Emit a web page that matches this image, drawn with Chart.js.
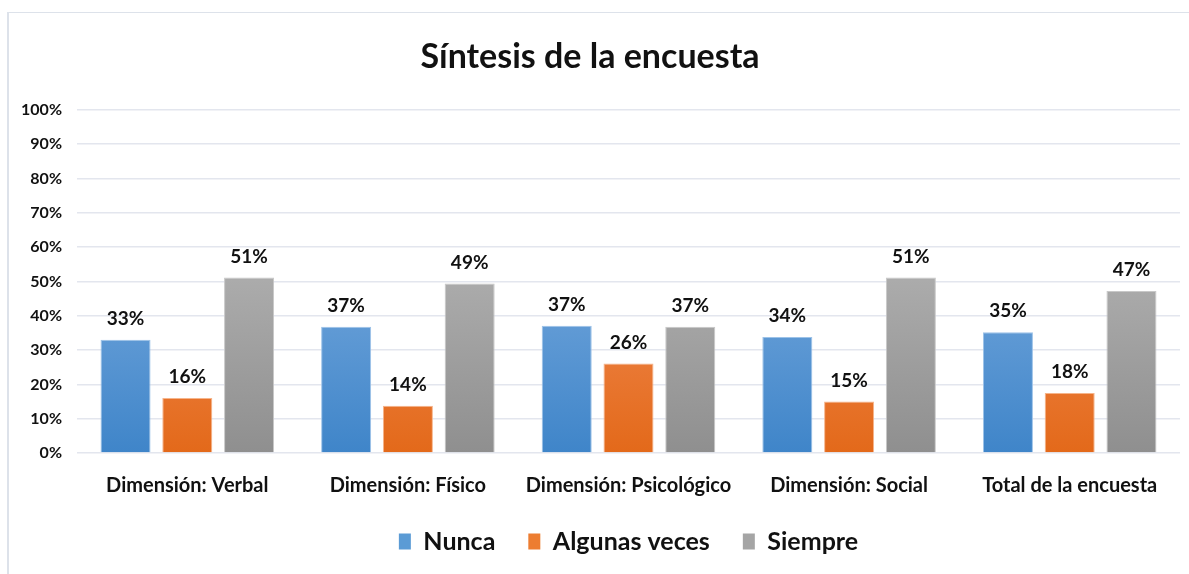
<!DOCTYPE html>
<html>
<head>
<meta charset="utf-8">
<script src="https://cdn.jsdelivr.net/npm/chart.js@4.4.0/dist/chart.umd.min.js"></script>
<style>
  body { margin: 0; background: #fff; }
  #marco { position: absolute; left: 7px; top: 12px; width: 1182px; height: 562px;
           border-top: 1px solid #dde2ea; border-left: 2px solid #dde2ea; pointer-events: none; }
  #grafico { position: absolute; left: 0; top: 0; }
</style>
</head>
<body>
<div id="marco"></div>
<canvas id="grafico" width="1189" height="574"></canvas>
<script>
const categorias = ['Dimensión: Verbal', 'Dimensión: Físico', 'Dimensión: Psicológico', 'Dimensión: Social', 'Total de la encuesta'];
const nunca = [33, 36.8, 37.1, 33.8, 35.2];
const algunasVeces = [16, 13.8, 26.1, 15, 17.5];
const siempre = [51.1, 49.4, 36.8, 51.1, 47.2];
const ticksY = ['0%', '10%', '20%', '30%', '40%', '50%', '60%', '70%', '80%', '90%', '100%'];

const fuente = 'Lato, "Open Sans", sans-serif';

function degradado(arriba, abajo) {
    return function (context) {
        const area = context.chart.chartArea;
        if (!area) return abajo;
        const g = context.chart.ctx.createLinearGradient(0, area.top + 140, 0, area.bottom);
        g.addColorStop(0, arriba);
        g.addColorStop(1, abajo);
        return g;
    };
}

const etiquetasDatos = {
    id: 'etiquetasDatos',
    afterDatasetsDraw(chart) {
        const ctx = chart.ctx;
        ctx.save();
        ctx.font = 'bold 19px ' + fuente;
        ctx.fillStyle = '#111';
        ctx.textAlign = 'center';
        ctx.textBaseline = 'middle';
        chart.data.datasets.forEach((ds, i) => {
            chart.getDatasetMeta(i).data.forEach((barra, j) => {
                ctx.fillText(Math.round(ds.data[j]) + '%', barra.x, barra.y - 21);
            });
        });
        ctx.restore();
    }
};

new Chart(document.getElementById('grafico'), {
    type: 'bar',
    data: {
        labels: categorias,
        datasets: [{
            label: 'Nunca',
            data: nunca,
            backgroundColor: degradado('#74a7dc', '#3f85c9'),
            borderColor: '#9cc2e8',
            borderWidth: 1
        }, {
            label: 'Algunas veces',
            data: algunasVeces,
            backgroundColor: degradado('#f18c55', '#e3691a'),
            borderColor: '#f6b48a',
            borderWidth: 1
        }, {
            label: 'Siempre',
            data: siempre,
            backgroundColor: degradado('#b0b0b0', '#8f8f8f'),
            borderColor: '#c8c8c8',
            borderWidth: 1
        }]
    },
    options: {
        responsive: false,
        animation: false,
        layout: { padding: { top: 0, left: 0, right: 9, bottom: 10 } },
        datasets: { bar: { categoryPercentage: 0.84, barPercentage: 0.81 } },
        plugins: {
            title: {
                display: true,
                text: 'Síntesis de la encuesta',
                color: '#111',
                font: { family: fuente, size: 34, weight: 'bold' },
                padding: { top: 37, bottom: 32 }
            },
            legend: {
                position: 'bottom',
                fullSize: false,
                labels: {
                    color: '#111',
                    font: { family: fuente, size: 25, weight: 'bold' },
                    boxWidth: 12,
                    boxHeight: 16,
                    padding: 33,
                    generateLabels(chart) {
                        const colores = ['#5b9bd5', '#ed7d31', '#a5a5a5'];
                        return chart.data.datasets.map((ds, i) => ({
                            text: ds.label,
                            fillStyle: colores[i],
                            strokeStyle: colores[i],
                            lineWidth: 0,
                            datasetIndex: i,
                            fontColor: '#111'
                        }));
                    }
                }
            },
            tooltip: { enabled: false }
        },
        scales: {
            x: {
                afterFit(scale) { scale.height = 43; },
                grid: { display: false, drawTicks: false },
                border: { display: false },
                ticks: {
                    color: '#111',
                    padding: 21,
                    font: { family: fuente, size: 20, weight: 'bold' }
                }
            },
            y: {
                min: 0,
                max: 100,
                afterFit(scale) { scale.width = 77; },
                grid: { color: '#e3e6ee', lineWidth: 1.5, drawTicks: false },
                border: { display: false },
                ticks: {
                    stepSize: 10,
                    padding: 15,
                    color: '#111',
                    font: { family: fuente, size: 16, weight: 'bold' },
                    callback: (v) => ticksY[Math.round(v / 10)]
                }
            }
        }
    },
    plugins: [etiquetasDatos]
});
</script>
</body>
</html>
